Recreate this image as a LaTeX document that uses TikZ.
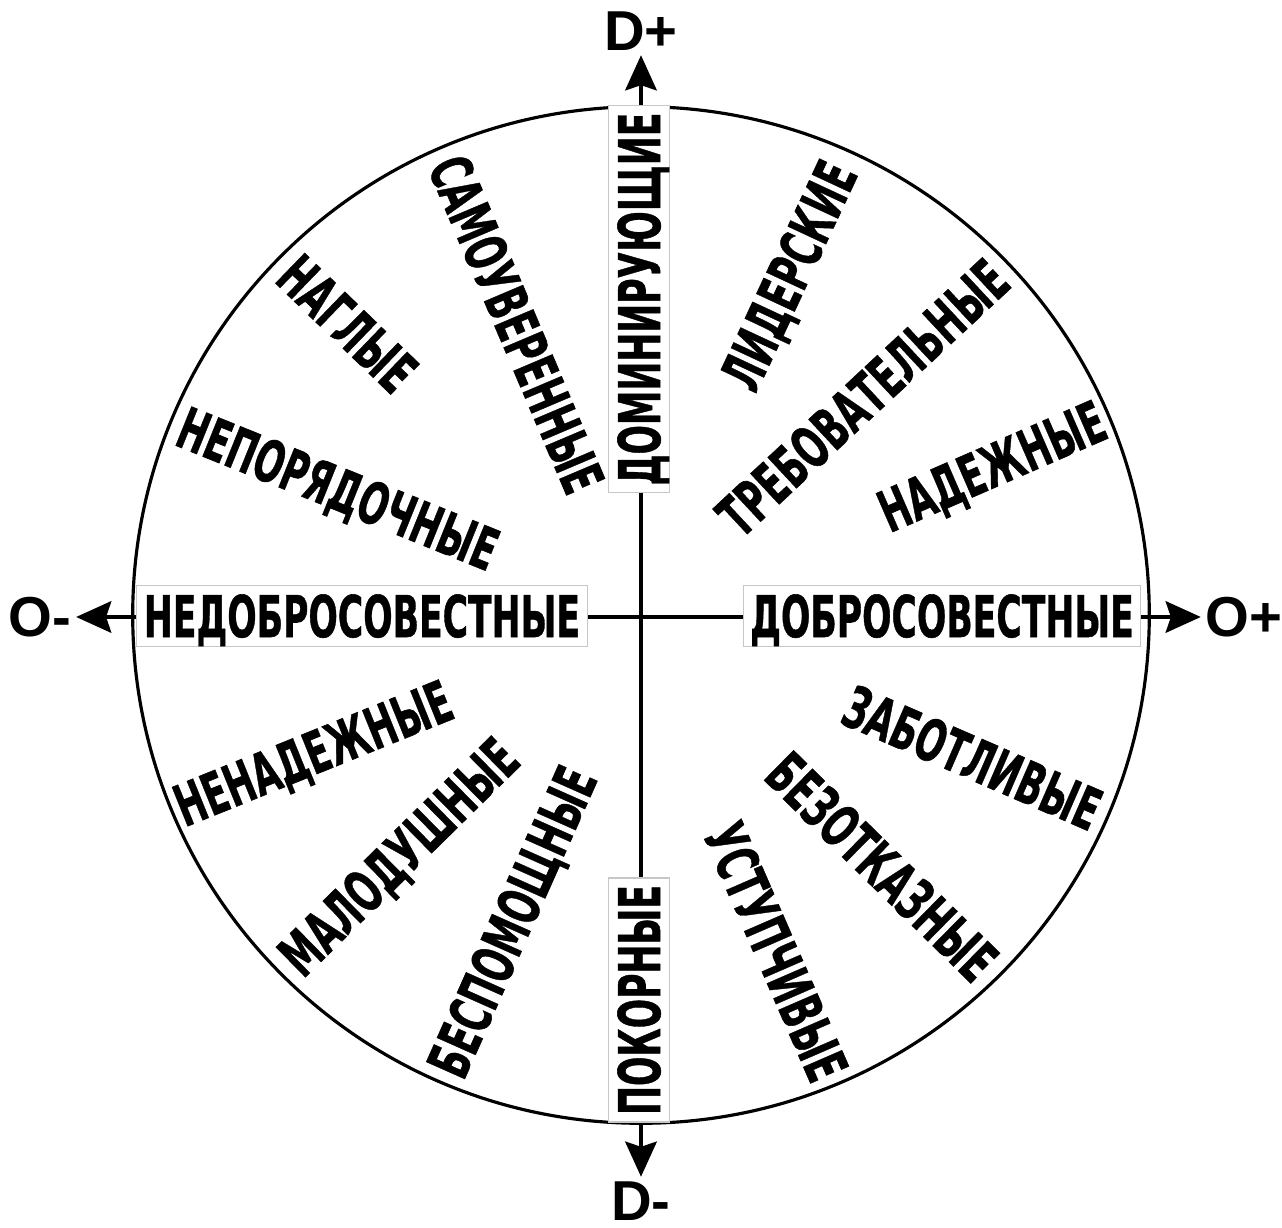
\documentclass[tikz,border=0pt]{standalone}
\usepackage{fontspec}
\setmainfont{Liberation Sans}
\newfontfamily\wordfont{DejaVu Sans}[FakeBold=1]
\newcommand{\squeeze}[1]{\scalebox{0.6}[1]{#1}}
\usetikzlibrary{calc, positioning, arrows.meta}

\begin{document}
\begin{tikzpicture}[x=0.01cm,y=0.01cm]
  \tikzset{word/.style={font=\wordfont\bfseries\fontsize{16.4}{16.4}\selectfont,inner sep=0,text height=12pt,text depth=0pt}}
  \tikzset{axisbox/.style={word,draw=black!22,line width=0.3pt,fill=white,inner xsep=2pt,inner ysep=2.8pt}}
  \tikzset{pole/.style={font=\bfseries\fontsize{16}{16}\selectfont,inner sep=1.2pt}}
  \tikzset{axis/.style={line width=0.9pt,{Stealth[length=10pt,width=9pt,inset=1.5pt]}-{Stealth[length=10pt,width=9pt,inset=1.5pt]}}}
  \useasboundingbox (-641,-611) rectangle (641,617);
  \draw[line width=0.9pt] (0,2) circle [radius=5.08cm];
  \node[pole] (dp) at (0,586) {D+};
  \node[pole] (dm) at (0,-584) {D-};
  \node[pole] (om) at (-601,0) {O-};
  \node[pole] (op) at (603,0) {O+};
  \draw[axis] (dm) -- (dp);
  \draw[axis] (om) -- (op);
  \node[axisbox,rotate=90] (dom) at (-2,318) {\squeeze{ДОМИНИРУЮЩИЕ}};
  \node[axisbox,rotate=90] (pok) at (-2,-383) {\squeeze{ПОКОРНЫЕ}};
  \node[axisbox] (dob) at (301,1) {\squeeze{ДОБРОСОВЕСТНЫЕ}};
  \node[axisbox] (ned) at (-279,1) {\squeeze{НЕДОБРОСОВЕСТНЫЕ}};
  \node[word,rotate=-67] (sam) at (113:318) {\squeeze{САМОУВЕРЕННЫЕ}};
  \node[word,rotate=-44] (nag) at (135:415) {\squeeze{НАГЛЫЕ}};
  \node[word,rotate=-22] (nep) at (157:329) {\squeeze{НЕПОРЯДОЧНЫЕ}};
  \node[word,rotate=65] (lid) at (66.7:372) {\squeeze{ЛИДЕРСКИЕ}};
  \node[word,rotate=43] (treb) at (44.7:312) {\squeeze{ТРЕБОВАТЕЛЬНЫЕ}};
  \node[word,rotate=23.5] (nad) at (23.3:382) {\squeeze{НАДЕЖНЫЕ}};
  \node[word,rotate=22] (nen) at (202.5:355) {\squeeze{НЕНАДЕЖНЫЕ}};
  \node[word,rotate=44.5] (mal) at (224.6:341) {\squeeze{МАЛОДУШНЫЕ}};
  \node[word,rotate=66] (bes) at (247:331) {\squeeze{БЕСПОМОЩНЫЕ}};
  \node[word,rotate=-23.5] (zab) at (-23:360) {\squeeze{ЗАБОТЛИВЫЕ}};
  \node[word,rotate=-44.5] (bez) at (-46:347) {\squeeze{БЕЗОТКАЗНЫЕ}};
  \node[word,rotate=-66.5] (ust) at (-68:361) {\squeeze{УСТУПЧИВЫЕ}};
\end{tikzpicture}
\end{document}
